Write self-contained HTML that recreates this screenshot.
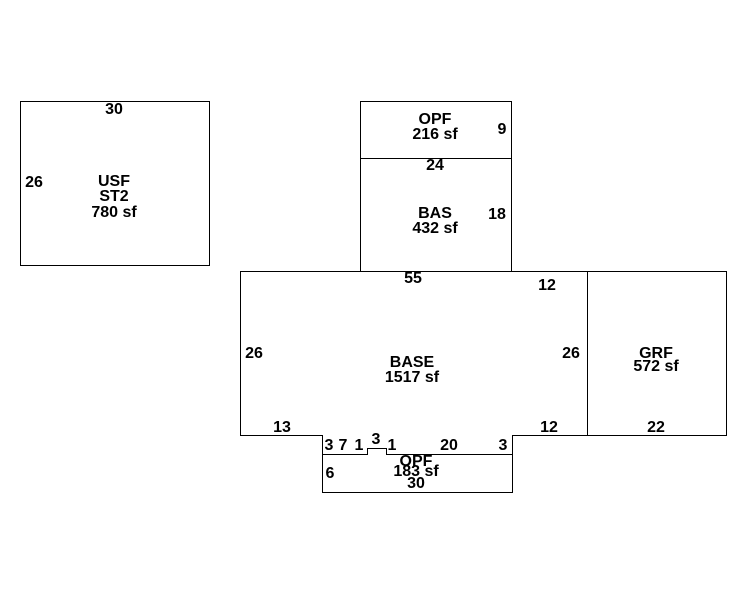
<!DOCTYPE html>
<html><head><style>
body{margin:0;background:#fff;width:746px;height:595px;overflow:hidden}
svg text{font-family:"Liberation Sans",Arial,sans-serif;font-weight:bold;font-size:16px;fill:#000}
</style></head><body>
<svg width="746" height="595" viewBox="0 0 746 595" xmlns="http://www.w3.org/2000/svg">
<g fill="none" stroke="#000" stroke-width="1">
<rect x="20.5" y="101.5" width="189" height="164"/>
<rect x="360.5" y="101.5" width="151" height="170"/>
<line x1="360.5" y1="158.5" x2="511.5" y2="158.5"/>
<rect x="587.5" y="271.5" width="139" height="164"/>
<polyline points="587.5,271.5 240.5,271.5 240.5,435.5 322.5,435.5 322.5,454.5 367.5,454.5 367.5,448.5 386.5,448.5 386.5,454.5 512.5,454.5 512.5,435.5 587.5,435.5"/>
<polyline points="322.5,454.5 322.5,492.5 512.5,492.5 512.5,454.5"/>
</g>
<g text-anchor="middle">
<text x="114" y="114">30</text>
<text x="34" y="187">26</text>
<text x="114" y="186">USF</text>
<text x="114" y="201">ST2</text>
<text x="114" y="217">780 sf</text>
<text x="435" y="124">OPF</text>
<text x="435" y="139">216 sf</text>
<text x="502" y="134">9</text>
<text x="435" y="170">24</text>
<text x="435" y="218">BAS</text>
<text x="435" y="233">432 sf</text>
<text x="497" y="219">18</text>
<text x="413" y="283">55</text>
<text x="547" y="290">12</text>
<text x="254" y="358">26</text>
<text x="571" y="358">26</text>
<text x="412" y="367">BASE</text>
<text x="412" y="382">1517 sf</text>
<text x="656" y="358">GRF</text>
<text x="656" y="371">572 sf</text>
<text x="282" y="432">13</text>
<text x="549" y="432">12</text>
<text x="656" y="432">22</text>
<text x="329" y="450">3</text>
<text x="343" y="450">7</text>
<text x="359" y="450">1</text>
<text x="376" y="444">3</text>
<text x="392" y="450">1</text>
<text x="449" y="450">20</text>
<text x="503" y="450">3</text>
<text x="416" y="466">OPF</text>
<text x="416" y="476">183 sf</text>
<text x="416" y="488">30</text>
<text x="330" y="478">6</text>
</g>
</svg>
</body></html>
